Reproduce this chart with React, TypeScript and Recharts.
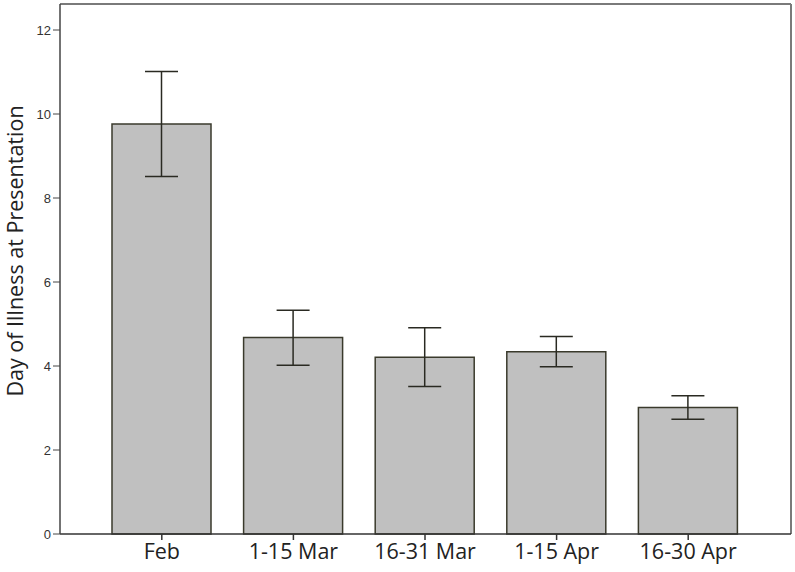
import { BarChart, Bar, XAxis, YAxis, ErrorBar, Label, CartesianGrid } from "recharts";

const periods = ["Feb", "1-15 Mar", "16-31 Mar", "1-15 Apr", "16-30 Apr"];
const means = [9.76, 4.68, 4.21, 4.34, 3.01];
const lower = [8.51, 4.02, 3.51, 3.98, 2.73];
const upper = [11.01, 5.33, 4.91, 4.7, 3.29];
const yTicks = [0, 2, 4, 6, 8, 10, 12];

const data = periods.map((period, i) => ({
  period,
  mean: means[i],
  err: [means[i] - lower[i], upper[i] - means[i]],
}));

const frameColor = "#7a7a7a";

export default function App() {
  return (
    <div style={{ position: "absolute", left: 0, top: 0 }}>
      <BarChart
        width={795}
        height={572}
        data={data}
        margin={{ top: 4, right: 4, left: 0, bottom: 0 }}
      >
        {/* top and right frame lines */}
        <CartesianGrid
          stroke={frameColor}
          strokeWidth={2}
          horizontalCoordinatesGenerator={({ offset }: any) => [offset.top]}
          verticalCoordinatesGenerator={({ offset }: any) => [
            offset.left + offset.width,
          ]}
        />
        <XAxis
          dataKey="period"
          height={38}
          padding={{ left: 36, right: 37 }}
          axisLine={{ stroke: "#333", strokeWidth: 1.5 }}
          tickLine={{ stroke: "#333", strokeWidth: 1.5 }}
          tickSize={6}
          tickMargin={4}
          tick={{ fontSize: 21.5, fill: "#222", fontFamily: "Open Sans" }}
        />
        <YAxis
          domain={[0, 12]}
          ticks={yTicks}
          padding={{ top: 26 }}
          width={60}
          interval={0}
          axisLine={{ stroke: "#444", strokeWidth: 1.5 }}
          tickLine={{ stroke: "#444", strokeWidth: 1 }}
          tickSize={7}
          tickMargin={2}
          tick={{ fontSize: 13, fill: "#333", fontFamily: "Liberation Sans" }}
        >
          <Label
            content={() => (
              <text
                x={17}
                y={251}
                transform="rotate(-90 17 251)"
                textAnchor="middle"
                dominantBaseline="middle"
                fontSize={21.5}
                fontFamily="Open Sans"
                fill="#222"
              >
                Day of Illness at Presentation
              </text>
            )}
          />
        </YAxis>
        <Bar
          dataKey="mean"
          barSize={99}
          fill="#c0c0c0"
          stroke="#3a3a2c"
          strokeWidth={1.5}
          isAnimationActive={false}
        >
          <ErrorBar
            dataKey="err"
            direction="y"
            width={16.5}
            stroke="#2a2a22"
            strokeWidth={1.5}
          />
        </Bar>
      </BarChart>
    </div>
  );
}
